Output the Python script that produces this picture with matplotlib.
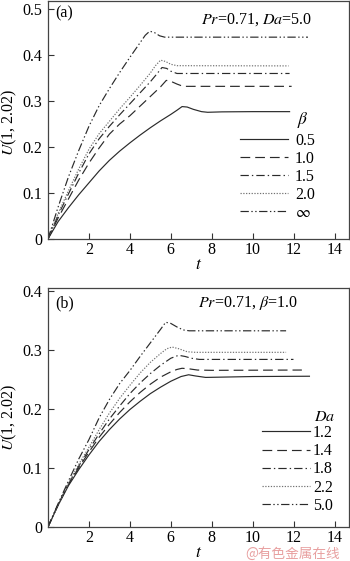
import matplotlib
matplotlib.use('Agg')
import matplotlib.pyplot as plt

plt.rcParams['font.family'] = ['Liberation Serif', 'DejaVu Serif']
plt.rcParams['mathtext.fontset'] = 'stix'
plt.rcParams['lines.scale_dashes'] = False

# panel (a): Pr=0.71, Da=5.0, different beta
t_b05 = [0, 0.5, 1, 1.5, 2, 2.5, 3, 3.5, 4, 4.5, 5, 5.5, 6, 6.3, 6.55, 6.8, 7.1, 7.5, 7.8, 8.5, 10, 11.8]
u_b05 = [0, 0.038, 0.068, 0.096, 0.122, 0.148, 0.171, 0.191, 0.209, 0.226, 0.242, 0.257, 0.271, 0.280, 0.288, 0.287, 0.282, 0.277, 0.2756, 0.2765, 0.277, 0.277]

t_b10 = [0, 0.5, 1, 1.5, 2, 2.5, 3, 3.5, 4, 4.5, 5, 5.5, 5.78, 6.0, 6.3, 6.6, 7, 11.9]
u_b10 = [0, 0.046, 0.087, 0.128, 0.165, 0.198, 0.228, 0.250, 0.268, 0.289, 0.310, 0.331, 0.345, 0.343, 0.337, 0.332, 0.332, 0.332]

t_b15 = [0, 0.5, 1, 1.5, 2, 2.5, 3, 3.5, 4, 4.5, 5, 5.3, 5.57, 5.8, 6.0, 6.3, 11.8]
u_b15 = [0, 0.052, 0.098, 0.143, 0.185, 0.218, 0.245, 0.270, 0.294, 0.318, 0.342, 0.358, 0.373, 0.371, 0.365, 0.360, 0.360]

t_b20 = [0, 0.5, 1, 1.5, 2, 2.5, 3, 3.5, 4, 4.5, 5, 5.25, 5.5, 5.75, 6, 6.3, 11.75]
u_b20 = [0, 0.056, 0.105, 0.152, 0.195, 0.229, 0.256, 0.283, 0.308, 0.334, 0.361, 0.377, 0.389, 0.386, 0.380, 0.377, 0.3765]

t_binf = [0, 0.5, 1, 1.5, 2, 2.5, 3, 3.5, 4, 4.5, 4.75, 4.97, 5.2, 5.45, 5.7, 12.7]
u_binf = [0, 0.070, 0.135, 0.192, 0.245, 0.290, 0.327, 0.362, 0.395, 0.427, 0.443, 0.452, 0.449, 0.442, 0.439, 0.439]

beta_labels = ['0.5', '1.0', '1.5', '2.0', r'$\infty$']

# panel (b): Pr=0.71, beta=1.0, different Da
t_d12 = [0, 0.5, 1, 1.5, 2, 2.5, 3, 3.5, 4, 4.5, 5, 5.5, 6, 6.5, 6.87, 7.2, 7.7, 8.5, 10, 12.77]
u_d12 = [0, 0.037, 0.070, 0.097, 0.122, 0.145, 0.165, 0.183, 0.199, 0.213, 0.226, 0.237, 0.247, 0.255, 0.258, 0.256, 0.2535, 0.254, 0.255, 0.2555]

t_d14 = [0, 0.5, 1, 1.5, 2, 2.5, 3, 3.5, 4, 4.5, 5, 5.5, 6, 6.3, 6.55, 6.9, 7.3, 8, 12.4]
u_d14 = [0, 0.038, 0.072, 0.100, 0.127, 0.152, 0.174, 0.194, 0.212, 0.228, 0.242, 0.254, 0.263, 0.267, 0.269, 0.268, 0.266, 0.2655, 0.266]

t_d18 = [0, 0.5, 1, 1.5, 2, 2.5, 3, 3.5, 4, 4.5, 5, 5.5, 6, 6.38, 6.7, 7.0, 7.4, 11.99]
u_d18 = [0, 0.038, 0.073, 0.103, 0.131, 0.158, 0.183, 0.205, 0.226, 0.244, 0.260, 0.274, 0.286, 0.291, 0.289, 0.286, 0.284, 0.284]

t_d22 = [0, 0.5, 1, 1.5, 2, 2.5, 3, 3.5, 4, 4.5, 5, 5.5, 5.8, 6.06, 6.4, 6.8, 7.2, 11.63]
u_d22 = [0, 0.038, 0.074, 0.106, 0.135, 0.165, 0.193, 0.218, 0.240, 0.261, 0.279, 0.294, 0.302, 0.305, 0.302, 0.297, 0.296, 0.296]

t_d50 = [0, 0.5, 1, 1.5, 2, 2.5, 3, 3.5, 4, 4.5, 5, 5.5, 5.75, 6.0, 6.3, 6.6, 6.9, 11.63]
u_d50 = [0, 0.040, 0.078, 0.115, 0.148, 0.185, 0.216, 0.243, 0.265, 0.289, 0.312, 0.335, 0.347, 0.345, 0.339, 0.334, 0.3325, 0.3325]

da_labels = ['1.2', '1.4', '1.8', '2.2', '5.0']

styles = [
    dict(ls='-', color='#2a2a2a'),
    dict(ls=(0, (7, 3.6)), color='#2a2a2a'),
    dict(ls=(0, (6, 2.2, 1, 2.2)), color='#2a2a2a'),
    dict(ls=(0, (0.9, 1.1)), color='#707070'),
    dict(ls=(0, (6, 1.8, 1, 1.8, 1, 1.8)), color='#2a2a2a'),
]

fig = plt.figure(figsize=(3.5, 5.61), dpi=100)
ax1 = fig.add_axes([0.137, 0.574, 0.860, 0.4245])
ax2 = fig.add_axes([0.137, 0.0606, 0.860, 0.426])

fs = 11.5


def setup(ax, ymax, yticks):
    ax.set_xlim(0, 14.7)
    ax.set_ylim(0, ymax)
    ax.set_xticks([2, 4, 6, 8, 10, 12, 14])
    ax.set_yticks(yticks)
    ax.set_yticklabels(['0'] + ['%.1f' % v for v in yticks[1:]])
    ax.tick_params(direction='in', length=4, width=0.8, labelsize=fs, pad=4,
                   top=False, right=False, colors='#333333', labelcolor='black')
    ax.tick_params(axis='x', pad=2.5)
    for s in ax.spines.values():
        s.set_linewidth(0.9)
        s.set_color('#444444')
    ax.set_xlabel(r'$t$', fontsize=fs + 1, labelpad=-1)
    ax.set_ylabel(r'$U$(1, 2.02)', fontsize=fs)


# top panel
setup(ax1, 0.518, [0, 0.1, 0.2, 0.3, 0.4, 0.5])
curves_a = [(t_b05, u_b05), (t_b10, u_b10), (t_b15, u_b15), (t_b20, u_b20), (t_binf, u_binf)]
for (t, u), st, lab in zip(curves_a, styles, beta_labels):
    ax1.plot(t, u, lw=0.85, label=lab, **st)
ax1.legend(loc='upper left', bbox_to_anchor=(0.638, 0.445), frameon=False,
           fontsize=fs, handlelength=3.0, handletextpad=0.45, labelspacing=0.12,
           borderpad=0, borderaxespad=0)
ax1.text(0.827, 0.498, r'$\beta$', transform=ax1.transAxes, fontsize=fs + 1, va='center', ha='left')
ax1.text(0.023, 0.946, '(a)', transform=ax1.transAxes, fontsize=fs, va='center', ha='left')
ax1.text(0.877, 0.92, r'$Pr$=0.71, $Da$=5.0', transform=ax1.transAxes, fontsize=fs,
         va='center', ha='right')
ax1.yaxis.set_label_coords(-0.095, 0.49)

# bottom panel
setup(ax2, 0.405, [0, 0.1, 0.2, 0.3, 0.4])
curves_b = [(t_d12, u_d12), (t_d14, u_d14), (t_d18, u_d18), (t_d22, u_d22), (t_d50, u_d50)]
for (t, u), st, lab in zip(curves_b, styles, da_labels):
    ax2.plot(t, u, lw=0.85, label=lab, **st)
ax2.legend(loc='upper left', bbox_to_anchor=(0.711, 0.427), frameon=False,
           fontsize=fs, handlelength=3.0, handletextpad=0.2, labelspacing=0.14,
           borderpad=0, borderaxespad=0)
ax2.text(0.884, 0.46, r'$Da$', transform=ax2.transAxes, fontsize=fs, va='center', ha='left')
ax2.text(0.023, 0.937, '(b)', transform=ax2.transAxes, fontsize=fs, va='center', ha='left')
ax2.text(0.83, 0.937, r'$Pr$=0.71, $\beta$=1.0', transform=ax2.transAxes, fontsize=fs,
         va='center', ha='right')
ax2.yaxis.set_label_coords(-0.095, 0.46)

fig.text(0.70, 0.001, '@有色金属在线', fontsize=9.8, color='#e8a0a0',
         family=['Noto Sans CJK SC', 'DejaVu Sans'], va='bottom', ha='left')

fig.savefig('out.png', dpi=100)
